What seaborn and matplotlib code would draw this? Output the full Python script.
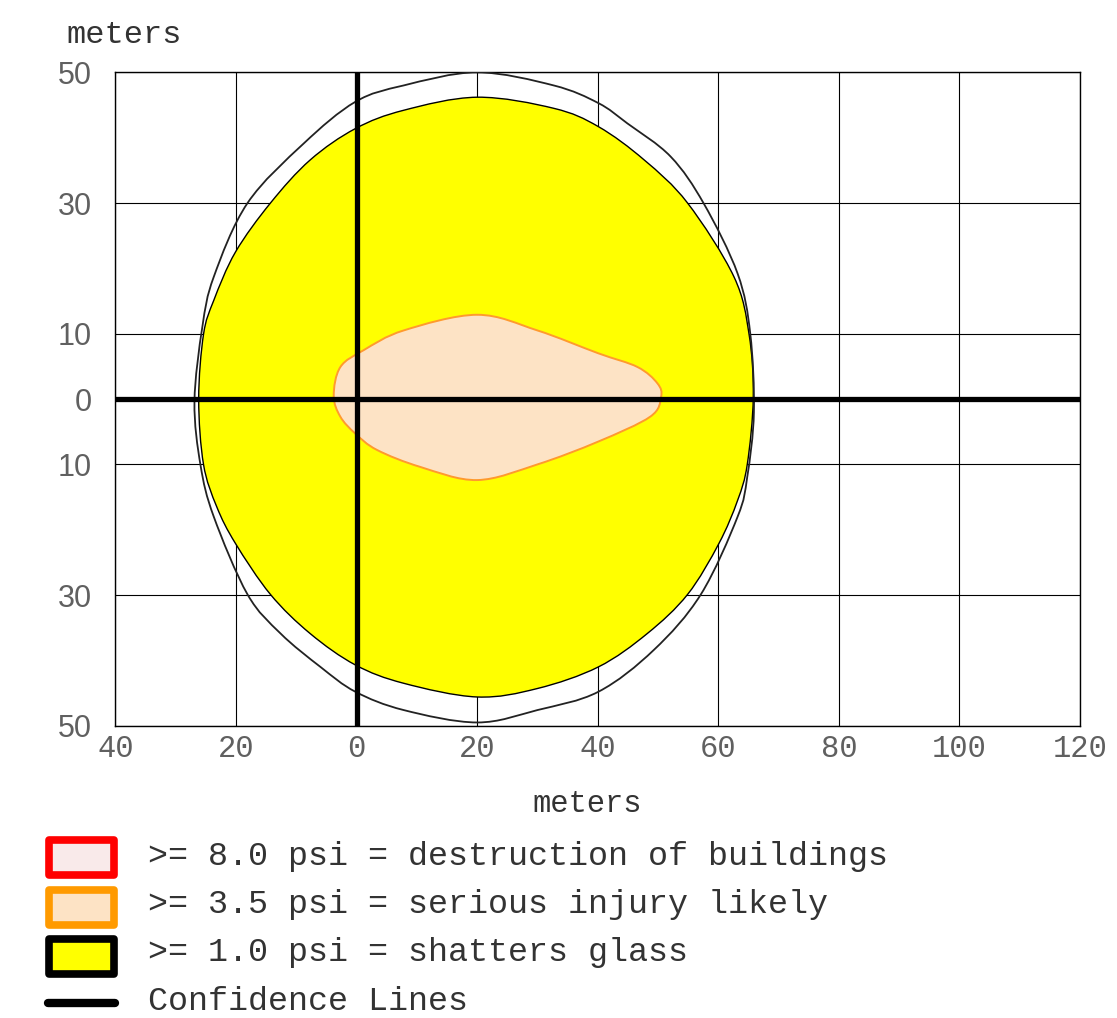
import matplotlib
matplotlib.use("Agg")
import matplotlib.pyplot as plt
import seaborn as sns
from matplotlib.patches import Rectangle, PathPatch
from matplotlib.path import Path

# contour points (meters)
outer_x = [20.0, 7.8, -0.2, -8.8, -18.1, -23.7, -25.6, -26.9, -25.9, -23.7,
           -18.1, -12.6, -6.0, -0.2, 7.8, 20.0, 30.0, 40.1, 49.3, 57.1, 63.2, 64.8, 65.9,
           65.3, 63.2, 57.6, 52.1, 44.9, 40.1, 32.7]
outer_y = [50.0, 48.0, 45.5, 39.1, 30.0, 18.7, 11.0, -0.4, -10.1, -18.0,
           -29.9, -35.9, -41.0, -44.8, -47.6, -49.5, -47.6, -44.8, -38.4, -29.9, -18.0, -11.9, -2.0,
           10.0, 19.2, 29.9, 37.1, 42.2, 45.3, 48.0]

yellow_x = [20.0, 7.8, -0.2, -7.7, -14.3, -20.1, -23.7, -25.4, -26.2, -25.4, -23.2, -20.1, -14.3,
            -7.7, -0.2, 7.8, 20.0, 30.0, 40.1, 48.2, 54.9, 60.1, 63.2, 64.8, 65.8,
            65.1, 62.6, 54.9, 47.7, 40.1, 32.7]
yellow_y = [46.2, 44.2, 41.4, 36.6, 30.0, 22.5, 15.1, 9.9, 0.0, -10.0, -16.5, -22.1, -29.9,
            -35.9, -40.7, -43.5, -45.6, -44.3, -41.0, -35.9, -29.9, -22.1, -15.5, -10.0, 0.3,
            9.9, 18.7, 30.0, 36.6, 41.7, 44.5]

orange_x = [20.0, 7.8, 1.2, -2.7, -3.8, -2.7, -0.2, 3.4, 10.6, 20.0, 30.0, 40.1,
            48.7, 50.5, 49.9, 46.6, 40.1, 30.0]
orange_y = [12.9, 10.5, 7.5, 4.9, 0.5, -2.7, -5.3, -7.8, -10.4, -12.4, -10.0, -6.5,
            -2.7, 0.3, 2.4, 4.9, 7.0, 10.5]

x_ticks = [-40, -20, 0, 20, 40, 60, 80, 100, 120]
x_tick_labels = ["40", "20", "0", "20", "40", "60", "80", "100", "120"]
y_ticks = [-50, -30, -10, 0, 10, 30, 50]
y_tick_labels = ["50", "30", "10", "0", "10", "30", "50"]

legend_labels = [">= 8.0 psi = destruction of buildings",
                 ">= 3.5 psi = serious injury likely",
                 ">= 1.0 psi = shatters glass",
                 "Confidence Lines"]


def smooth_closed(xs, ys):
    # closed curve through the points (Catmull-Rom drawn as cubic Bezier segments)
    n = len(xs)
    verts = [(xs[0], ys[0])]
    codes = [Path.MOVETO]
    for i in range(n):
        p0 = (xs[i - 1], ys[i - 1])
        p1 = (xs[i], ys[i])
        p2 = (xs[(i + 1) % n], ys[(i + 1) % n])
        p3 = (xs[(i + 2) % n], ys[(i + 2) % n])
        c1 = (p1[0] + (p2[0] - p0[0]) / 6, p1[1] + (p2[1] - p0[1]) / 6)
        c2 = (p2[0] - (p3[0] - p1[0]) / 6, p2[1] - (p3[1] - p1[1]) / 6)
        verts += [c1, c2, p2]
        codes += [Path.CURVE4] * 3
    return Path(verts, codes)


sns.set_style("white")
mono = "Liberation Mono"

fig = plt.figure(figsize=(11.17, 10.18), dpi=100)
ax = fig.add_axes([0.1034, 0.2871, 0.8635, 0.6418])

# grid
for gx in x_ticks:
    ax.axvline(gx, color="black", lw=0.8, zorder=1)
for gy in y_ticks:
    ax.axhline(gy, color="black", lw=0.8, zorder=1)

# 1.0 psi zone
ax.add_patch(PathPatch(smooth_closed(yellow_x, yellow_y), facecolor="#ffff00", edgecolor="black",
                       lw=1.0, zorder=2))
# 3.5 psi zone
ax.add_patch(PathPatch(smooth_closed(orange_x, orange_y), facecolor="#fde3c5", edgecolor="#ff9a2e",
                       lw=1.4, zorder=3))
# outer ring
ax.add_patch(PathPatch(smooth_closed(outer_x, outer_y), facecolor="none", edgecolor="#222222",
                       lw=1.3, zorder=4))

# confidence lines
sns.lineplot(x=[-40, 120], y=[0, 0], color="black", lw=3.8, solid_capstyle="round", ax=ax, zorder=5)
sns.lineplot(x=[0, 0], y=[-50, 50], color="black", lw=3.8, solid_capstyle="round", ax=ax, zorder=5,
             sort=False, estimator=None)

ax.set_xlim(-40, 120)
ax.set_ylim(-50, 50)
ax.set_xticks(x_ticks)
ax.set_xticklabels(x_tick_labels, fontfamily=mono, fontsize=22, color="#606060")
ax.set_yticks(y_ticks)
ax.set_yticklabels(y_tick_labels, fontfamily="Liberation Sans", fontsize=22, color="#606060")
ax.tick_params(axis="x", length=0, pad=6)
ax.tick_params(axis="y", length=0, pad=17)
for sp in ax.spines.values():
    sp.set_color("black")
    sp.set_linewidth(1.0)

fig.text(124 / 1117, 1 - 43 / 1018, "meters", fontfamily=mono, fontsize=23, color="#333333",
         ha="center", va="baseline")
fig.text(587 / 1117, 1 - 812 / 1018, "meters", fontfamily=mono, fontsize=22, color="#333333",
         ha="center", va="baseline")

# legend drawn in figure pixel space
lg = fig.add_axes([0, 0, 1, 1], zorder=10)
lg.set_xlim(0, 1117)
lg.set_ylim(1018, 0)
lg.axis("off")
lg.patch.set_alpha(0)
boxes = [("#f9eaea", "#ff0000", 836), ("#fde3c5", "#ff9a00", 886), ("#ffff00", "#000000", 935)]
for face, edge, top in boxes:
    lg.add_patch(Rectangle((49, top + 4), 65, 35, facecolor=face, edgecolor=edge, lw=5.5,
                           joinstyle="round"))
lg.plot([48, 115], [1003, 1003], color="black", lw=6, solid_capstyle="round")
for label, base in zip(legend_labels, [865, 913, 961, 1010]):
    lg.text(148, base, label, fontfamily=mono, fontsize=24, color="#333333", va="baseline")

fig.savefig("out.png", dpi=100)
